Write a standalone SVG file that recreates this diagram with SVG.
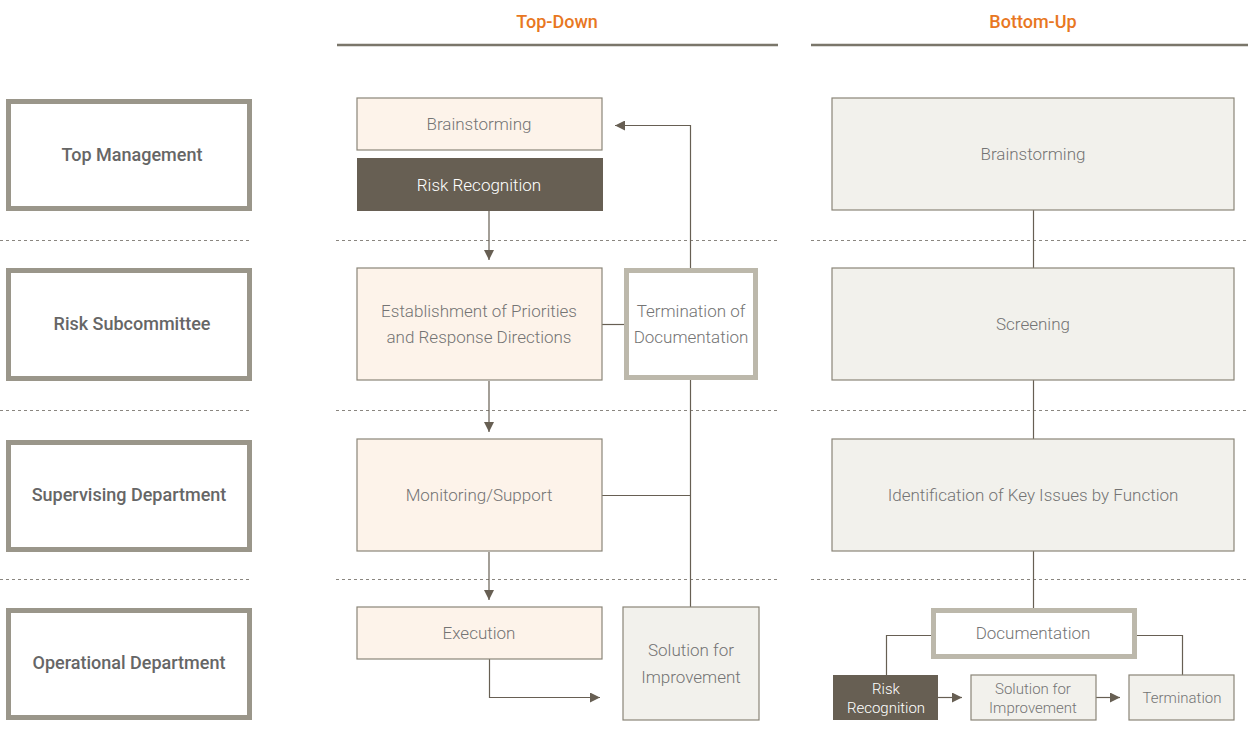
<svg xmlns="http://www.w3.org/2000/svg" width="1248" height="741" viewBox="0 0 1248 741">
<defs>
<marker id="ah" viewBox="0 0 10 10" refX="10" refY="5" markerWidth="10" markerHeight="10" markerUnits="userSpaceOnUse" orient="auto">
<path d="M0,0 L10,5 L0,10 Z" fill="#675f53"/>
</marker>
<style>
.lab{fill:#fff;stroke:#9a968a;stroke-width:5}
.labt{font-family:Roboto,"Liberation Sans",Arial,sans-serif;font-size:18px;font-weight:500;fill:#666;text-anchor:middle}
.hd{font-family:Roboto,"Liberation Sans",Arial,sans-serif;font-size:18px;font-weight:500;fill:#e87722;text-anchor:middle}
.peach{fill:#fdf3ea;stroke:#8a8578;stroke-width:1.2}
.grey{fill:#f2f1ec;stroke:#8a8578;stroke-width:1.2}
.dark{fill:#675f53}
.thick{fill:#fff;stroke:#bcb8ab;stroke-width:5}
.t{font-family:Roboto,"Liberation Sans",Arial,sans-serif;font-weight:300;font-size:17px;fill:#747474;text-anchor:middle}
.tw{font-family:Roboto,"Liberation Sans",Arial,sans-serif;font-weight:300;font-size:17px;fill:#fff;text-anchor:middle}
.ts{font-size:15px}
.dot{stroke:#8a8680;stroke-width:1;stroke-dasharray:3,3;fill:none}
.c{stroke:#675f53;stroke-width:1.2;fill:none}
.ca{stroke:#675f53;stroke-width:1.2;fill:none;marker-end:url(#ah)}
</style>
</defs>
<rect width="1248" height="741" fill="#fff"/>
<g id="headers">
<text class="hd" x="557" y="28">Top-Down</text>
<text class="hd" x="1033" y="28">Bottom-Up</text>
<line x1="337" y1="45" x2="778" y2="45" stroke="#7a766a" stroke-width="2.5"/>
<line x1="811" y1="45" x2="1248" y2="45" stroke="#7a766a" stroke-width="2.5"/>
</g>
<g id="separators">
<path class="dot" d="M0,240.5H252 M336,240.5H778 M811,240.5H1248"/>
<path class="dot" d="M0,410.5H252 M336,410.5H778 M811,410.5H1248"/>
<path class="dot" d="M0,579.5H252 M336,579.5H778 M811,579.5H1248"/>
</g>
<g id="lane-top"><rect class="lab" x="8.5" y="101.5" width="241" height="107"/><text class="labt" x="132" y="161">Top Management</text></g>
<g id="lane-risk"><rect class="lab" x="8.5" y="270.5" width="241" height="108"/><text class="labt" x="132" y="330">Risk Subcommittee</text></g>
<g id="lane-sup"><rect class="lab" x="8.5" y="442.5" width="241" height="107"/><text class="labt" x="129" y="501">Supervising Department</text></g>
<g id="lane-op"><rect class="lab" x="8.5" y="610.5" width="241" height="107"/><text class="labt" x="129" y="669">Operational Department</text></g>
<g id="connectors">
<line class="ca" x1="489" y1="211" x2="489" y2="260"/>
<line class="ca" x1="489" y1="381" x2="489" y2="432"/>
<line class="ca" x1="489" y1="552" x2="489" y2="600"/>
<path class="ca" d="M489.5,659 V697.5 H600"/>
<path class="ca" d="M690.5,607 V125.5 H615"/>
<line class="c" x1="602" y1="324.5" x2="624" y2="324.5"/>
<line class="c" x1="602" y1="495.5" x2="690" y2="495.5"/>
<line class="c" x1="1033.5" y1="210" x2="1033.5" y2="268"/>
<line class="c" x1="1033.5" y1="380" x2="1033.5" y2="439"/>
<line class="c" x1="1033.5" y1="551" x2="1033.5" y2="608"/>
<path class="c" d="M931,635.5 H886.5 V675"/>
<path class="c" d="M1136,635.5 H1182.5 V675"/>
<line class="ca" x1="938" y1="697.5" x2="962" y2="697.5"/>
<line class="ca" x1="1096" y1="697.5" x2="1120" y2="697.5"/>
</g>
<g id="td-brainstorming"><rect class="peach" x="357" y="98" width="245" height="52"/><text class="t" x="479" y="130">Brainstorming</text></g>
<g id="td-risk"><rect class="dark" x="357" y="158" width="246" height="53"/><text class="tw" x="479" y="191">Risk Recognition</text></g>
<g id="td-establish"><rect class="peach" x="357" y="268" width="245" height="112"/><text class="t" x="479" y="317">Establishment of Priorities</text><text class="t" x="479" y="343">and Response Directions</text></g>
<g id="td-termination"><rect class="thick" x="626.5" y="270.5" width="129" height="107"/><text class="t" x="691" y="317">Termination of</text><text class="t" x="691" y="343">Documentation</text></g>
<g id="td-monitor"><rect class="peach" x="357" y="439" width="245" height="112"/><text class="t" x="479" y="501">Monitoring/Support</text></g>
<g id="td-exec"><rect class="peach" x="357" y="607" width="245" height="52"/><text class="t" x="479" y="639">Execution</text></g>
<g id="td-solution"><rect class="grey" x="623" y="607" width="136" height="113"/><text class="t" x="691" y="656">Solution for</text><text class="t" x="691" y="683">Improvement</text></g>
<g id="bu-brainstorming"><rect class="grey" x="832" y="98" width="402" height="112"/><text class="t" x="1033" y="160">Brainstorming</text></g>
<g id="bu-screening"><rect class="grey" x="832" y="268" width="402" height="112"/><text class="t" x="1033" y="330">Screening</text></g>
<g id="bu-ident"><rect class="grey" x="832" y="439" width="402" height="112"/><text class="t" x="1033" y="501">Identification of Key Issues by Function</text></g>
<g id="bu-doc"><rect class="thick" x="933.5" y="610.5" width="201" height="46"/><text class="t" x="1033" y="639">Documentation</text></g>
<g id="bu-risk"><rect class="dark" x="833" y="675" width="105" height="45"/><text class="tw ts" x="886" y="694">Risk</text><text class="tw ts" x="886" y="713">Recognition</text></g>
<g id="bu-solution"><rect class="grey" x="971" y="675" width="125" height="45"/><text class="t ts" x="1033" y="694">Solution for</text><text class="t ts" x="1033" y="713">Improvement</text></g>
<g id="bu-termination"><rect class="grey" x="1129" y="675" width="105" height="45"/><text class="t ts" x="1182" y="703">Termination</text></g>
</svg>
